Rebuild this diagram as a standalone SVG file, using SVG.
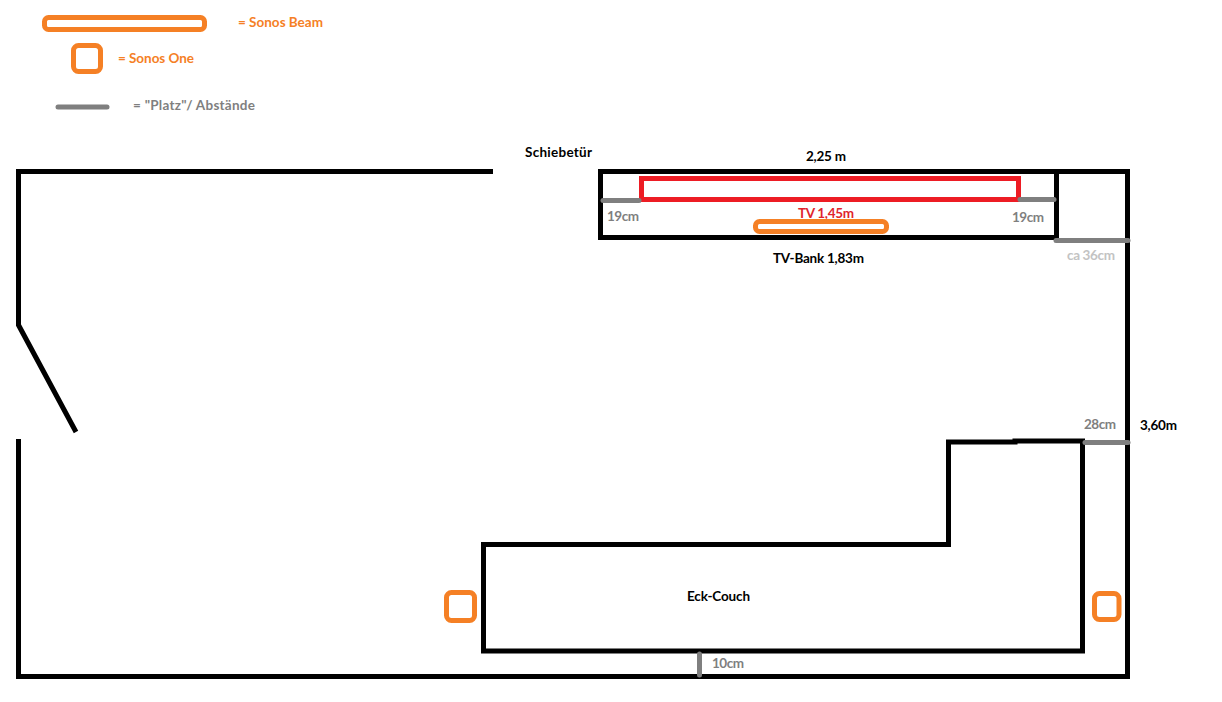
<svg xmlns="http://www.w3.org/2000/svg" width="1222" height="702" viewBox="0 0 1222 702">
<style>
.w{fill:none;stroke:#000;stroke-width:5;stroke-linejoin:miter}
.o{fill:none;stroke:#f58025;stroke-width:5}
.g{fill:none;stroke:#7f7f7f;stroke-width:5;stroke-linecap:round}
.r{fill:none;stroke:#ed1c24;stroke-width:5}
text{font-family:Lato,"Liberation Sans",sans-serif;font-weight:700;font-size:13.5px}
.tb{fill:#000}.to{fill:#f58025}.tg{fill:#7f7f7f}.tl{fill:#c3c3c3}.tr{fill:#e0242c}
</style>
<rect width="1222" height="702" fill="#fff"/>
<g id="legend">
<rect class="o" x="44.500" y="17.500" width="160" height="12" rx="4"/>
<text class="to" x="238" y="27" textLength="85">= Sonos Beam</text>
<rect class="o" x="73.500" y="45.500" width="27" height="26" rx="5"/>
<text class="to" x="118" y="63" textLength="76">= Sonos One</text>
<line class="g" x1="58" y1="107" x2="107" y2="107"/>
<text class="tg" x="133" y="110" textLength="122">= "Platz"/ Abstände</text>
</g>
<g id="room">
<path class="w" d="M493 171.500H18.500V325L76 432"/>
<path class="w" d="M18.500 439V676.500H1127.500V171.500H600"/>
<text class="tb" x="525" y="157" textLength="67">Schiebetür</text>
<text class="tb" x="806" y="161" textLength="40">2,25 m</text>
<text class="tb" x="1140" y="430" textLength="37">3,60m</text>
</g>
<g id="tv-bank">
<rect class="w" x="600.500" y="171.500" width="456" height="66"/>
<text class="tb" x="773" y="263" textLength="91">TV-Bank 1,83m</text>
</g>
<g id="tv">
<rect class="r" x="641.500" y="178.500" width="377" height="21"/>
<text class="tr" x="798" y="218" textLength="56">TV 1,45m</text>
</g>
<g id="sonos-beam">
<rect class="o" x="755.500" y="221.500" width="131" height="10" rx="4"/>
</g>
<g id="couch">
<path class="w" d="M483.500 544.500H948.500V442H1015V441H1082.500V651H483.500Z"/>
<text class="tb" x="687" y="601" textLength="63">Eck-Couch</text>
</g>
<g id="sonos-one-left">
<rect class="o" x="446.500" y="592.500" width="28" height="28" rx="5"/>
</g>
<g id="sonos-one-right">
<rect class="o" x="1094.500" y="593.500" width="24.500" height="26" rx="5"/>
</g>
<g id="connectors">
<line class="g" x1="603" y1="200.500" x2="639" y2="200.500"/>
<line class="g" x1="1020" y1="199.500" x2="1054" y2="199.500"/>
<line class="g" x1="1056" y1="240.500" x2="1128" y2="240.500"/>
<line class="g" x1="1085" y1="442.500" x2="1128" y2="442.500"/>
<line class="g" x1="699.500" y1="654" x2="699.500" y2="675"/>
</g>
<g id="dimension-labels">
<text class="tg" x="607" y="221" textLength="32">19cm</text>
<text class="tg" x="1012" y="222" textLength="32">19cm</text>
<text class="tl" x="1067" y="260" textLength="48">ca 36cm</text>
<text class="tg" x="1084" y="429" textLength="32">28cm</text>
<text class="tg" x="712" y="668" textLength="32">10cm</text>
</g>
</svg>
